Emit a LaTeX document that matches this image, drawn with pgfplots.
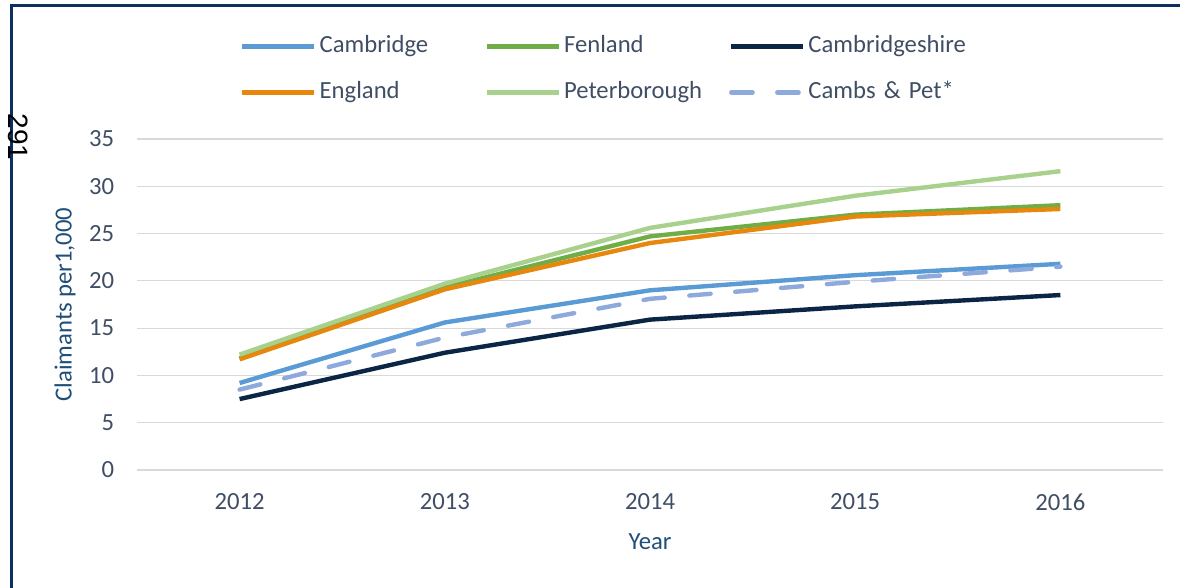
\documentclass[border=0pt]{standalone}
\usepackage{pgfplots}
\pgfplotsset{compat=1.18}
\usepackage{fontspec}
\setmainfont{Carlito}
\newfontfamily\arialfont{Liberation Sans}
\definecolor{cCam}{HTML}{5B9BD5}
\definecolor{cFen}{HTML}{70AD47}
\definecolor{cCsh}{HTML}{0B2545}
\definecolor{cEng}{HTML}{E8870E}
\definecolor{cPet}{HTML}{A9D18E}
\definecolor{cCP}{HTML}{8EA9DB}
\definecolor{frame}{HTML}{0B2F5E}
\definecolor{ticktxt}{HTML}{404E65}
\definecolor{labtxt}{HTML}{1F4E79}
\definecolor{gridc}{HTML}{D9D9D9}
\newcommand{\tf}{\fontsize{18.5}{22}\selectfont}
\begin{document}
\begin{tikzpicture}[x=0.75pt,y=0.75pt]
\path[use as bounding box] (0,0) rectangle (1180,588);
\draw[frame, line width=2.25pt] (11.5,0) -- (11.5,582) -- (1180,582);
\node[rotate=-90, inner sep=0pt, font=\arialfont\fontsize{21}{24}\selectfont] at (18,451) {291};
\begin{axis}[
  at={(102.75pt,88.5pt)}, anchor=south west,
  scale only axis, width=769.5pt, height=248.25pt,
  xmin=-0.5, xmax=4.5, ymin=0, ymax=35,
  xtick={0,1,2,3,4}, xticklabels={2012,2013,2014,2015,2016},
  ytick={0,5,...,35},
  axis line style={draw=none},
  major tick length=0pt,
  ymajorgrids, grid style={gridc, line width=0.9pt},
  /pgf/number format/assume math mode=true,
  tick label style={font=\tf, text=ticktxt},
  yticklabel style={inner sep=0pt, anchor=east, xshift=-17pt},
  xticklabel style={inner sep=0pt, anchor=center, yshift=-24pt},
  every axis y label/.style={at={(axis description cs:-0.0702,0.5)}, rotate=90, anchor=center, font=\tf, text=labtxt},
  every axis x label/.style={at={(axis description cs:0.5,-0.2175)}, anchor=center, font=\tf, text=labtxt},
  ylabel={Claimants per1,000},
  xlabel={Year},
  legend columns=3,
  legend cell align=left,
  legend style={at={(axis description cs:0.1004,1.315)}, anchor=north west, draw=none, fill=none,
    font=\tf, text=ticktxt, inner sep=0pt, row sep=17.5pt,
    /tikz/every odd column/.append style={column sep=2.25pt},
    nodes={inner sep=0pt, text width=123.75pt, text height=13pt, text depth=4pt}},
  legend image code/.code={\draw[#1] (0pt,0pt) -- (54pt,0pt);},
  every axis plot/.append style={line width=3.3pt, line join=round},
]
\addplot[cCam] coordinates {(0,9.2) (1,15.6) (2,19.0) (3,20.6) (4,21.8)};
\addlegendentry{Cambridge}
\addplot[cFen] coordinates {(0,11.8) (1,19.3) (2,24.7) (3,27.0) (4,28.0)};
\addlegendentry{Fenland}
\addplot[cCsh] coordinates {(0,7.5) (1,12.4) (2,15.9) (3,17.3) (4,18.5)};
\addlegendentry{Cambridgeshire}
\addplot[cEng] coordinates {(0,11.7) (1,19.1) (2,24.0) (3,26.8) (4,27.6)};
\addlegendentry{England}
\addplot[cPet] coordinates {(0,12.2) (1,19.7) (2,25.6) (3,29.0) (4,31.6)};
\addlegendentry{Peterborough}
\addplot[cCP, line cap=round, dash pattern=on 16pt off 18.5pt] coordinates {(0,8.5) (1,14.0) (2,18.1) (3,19.9) (4,21.5)};
\addlegendentry{Cambs \& Pet*}
\end{axis}
\end{tikzpicture}
\end{document}
